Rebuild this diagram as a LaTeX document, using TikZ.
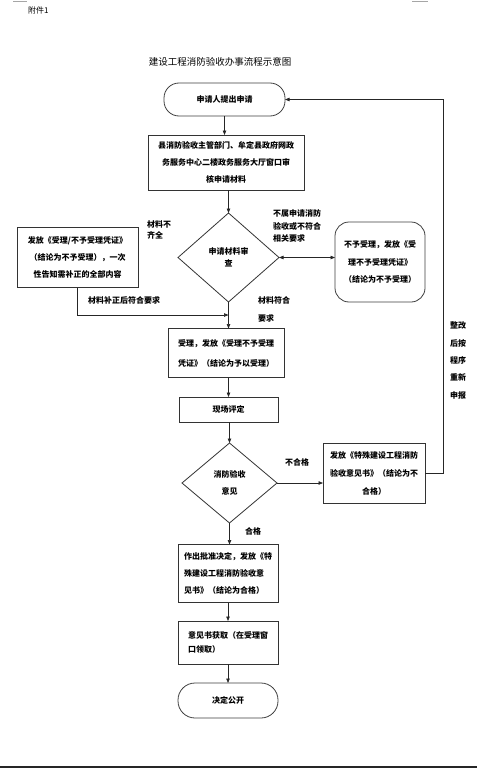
\documentclass[tikz,border=0pt]{standalone}
\usepackage{fontspec}
\setmainfont{Noto Sans CJK SC}
\usetikzlibrary{arrows.meta,shapes.geometric}
\begin{document}
\begin{tikzpicture}[x=1pt,y=-1pt,
  every node/.style={inner sep=0pt,outer sep=0pt},
  txt/.style={font=\fontsize{8}{#1}\selectfont\bfseries},
  txt/.default=17,
  boxx/.style={draw=black!80,line width=0.8pt,rectangle},
  pill/.style={draw=black!75,line width=0.8pt,rectangle,rounded corners=15pt},
  dia/.style={draw=black!80,line width=0.8pt,diamond},
  lab/.style={font=\fontsize{8}{#1}\selectfont\bfseries,align=left,anchor=north west},
  lab/.default=12,
  conn/.style={draw=black!85,line width=0.7pt},
  arr/.style={conn,-{Triangle[length=4.5pt,width=3.5pt]}},
  darr/.style={conn,{Triangle[length=4.5pt,width=3.5pt]}-{Triangle[length=4.5pt,width=3.5pt]}}
]
\useasboundingbox (0,0) rectangle (477,768);
\fill[white] (0,0) rectangle (477,768);
% page marks
\draw[black!35,line width=0.6pt] (13,1) -- (27,1);
\draw[black!35,line width=0.6pt] (412,1) -- (428,1);
\fill[black!85] (0,765.5) rectangle (477,768);
% header and title
\node[font=\fontsize{8}{10}\selectfont,anchor=west] (fj) at (28,10) {附件1};
\node[font=\fontsize{9.5}{12}\selectfont] (title) at (220,62) {建设工程消防验收办事流程示意图};
% nodes
\node[pill,minimum width=121,minimum height=33,txt] (start) at (224.5,99.5) {申请人提出申请};
\node[boxx,minimum width=156,minimum height=55,txt,align=center] (box2) at (226,162.5)
  {县消防验收主管部门、牟定县政府网政\\务服务中心二楼政务服务大厅窗口审\\核申请材料};
\node[dia,minimum width=101,minimum height=89,txt=12,align=center] (d1) at (228.5,257.5)
  {申请材料审\\查};
\node[boxx,minimum width=121,minimum height=60,txt=17,align=center] (lbox) at (77.5,257.5)
  {发放《受理/不予受理凭证》\\（结论为不予受理），一次\\性告知需补正的全部内容};
\node[pill,minimum width=90,minimum height=80,txt=17.5,align=center,rounded corners=14pt] (rpill) at (380,262)
  {不予受理，发放《受\\理不予受理凭证》\\（结论为不予受理）};
\coordinate (m1) at (228.5,315);
\node[boxx,minimum width=116,minimum height=49,txt=20,align=left] (box3) at (226,353)
  {受理，发放《受理不予受理\\凭证》（结论为予以受理）};
\node[boxx,minimum width=99,minimum height=25,txt] (box4) at (228.5,409.5) {现场评定};
\node[dia,minimum width=95,minimum height=80,txt=17,align=center] (d2) at (229.5,483)
  {消防验收\\意见};
\node[boxx,minimum width=102,minimum height=60,txt=18,align=center] (rbox2) at (374,473)
  {发放《特殊建设工程消防\\验收意见书》（结论为不\\合格）};
\node[boxx,minimum width=100,minimum height=58,txt=17,align=left] (box5) at (228,573.5)
  {作出批准决定，发放《特\\殊建设工程消防验收意\\见书》（结论为合格）};
\node[boxx,minimum width=100,minimum height=43,txt=14,align=left] (box6) at (228,642.5)
  {意见书获取（在受理窗\\口领取）};
\node[pill,minimum width=100,minimum height=35,txt,rounded corners=17pt] (end) at (228,700.5) {决定公开};
% labels
\node[lab=11] (l1) at (147,221) {材料不\\齐全};
\node[lab=12.5] (l2) at (273,210) {不属申请消防\\验收或不符合\\相关要求};
\node[lab=17.5] (l3) at (258,297) {材料符合\\要求};
\node[lab] (l4) at (88,297) {材料补正后符合要求};
\node[lab] (l5) at (285,459) {不合格};
\node[lab] (l6) at (245,528) {合格};
\node[lab=17.3,align=center] (l7) at (450,322) {整改\\后按\\程序\\重新\\申报};
% connectors
\draw[arr] (start.south) -- (start.south |- box2.north);
\draw[arr] (d1.north |- box2.south) -- (d1.north);
\draw[arr] (d1.south) -- (d1.south |- box3.north);
\draw[arr] (lbox.south) |- (m1);
\draw[darr] (d1.east) -- (d1.east -| rpill.west);
\draw[arr] (box4.north |- box3.south) -- (box4.north);
\draw[arr] (d2.north |- box4.south) -- (d2.north);
\draw[arr] (d2.east) -- (d2.east -| rbox2.west);
\draw[arr] (rbox2.east) -- ++(18,0) |- (start.east);
\draw[arr] (d2.south) -- (d2.south |- box5.north);
\draw[arr] (box6.north |- box5.south) -- (box6.north);
\draw[arr] (end.north |- box6.south) -- (end.north);
\end{tikzpicture}
\end{document}
